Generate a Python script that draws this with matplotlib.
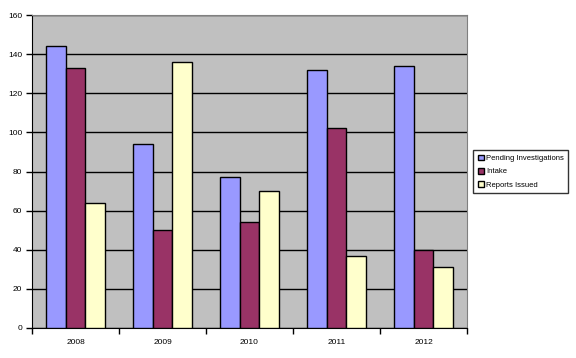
import matplotlib.pyplot as plt
import numpy as np

plt.rcParams['font.family'] = ['Liberation Sans', 'DejaVu Sans']

# Data
years = ["2008", "2009", "2010", "2011", "2012"]
pending = [144, 94, 77, 132, 134]
intake = [133, 50, 54, 102, 40]
reports = [64, 136, 70, 37, 31]

series = [
    ("Pending Investigations", pending, "#9999FF"),
    ("Intake", intake, "#993366"),
    ("Reports Issued", reports, "#FFFFCC"),
]

fig = plt.figure(figsize=(5.76, 3.58), dpi=100)
ax = fig.add_axes([32 / 576, 30 / 358, 435 / 576, 313 / 358])
ax.set_facecolor("#C0C0C0")

x = np.arange(len(years))
w = 0.225
for i, (name, vals, col) in enumerate(series):
    ax.bar(x + (i - 1) * w, vals, w, color=col, edgecolor="black",
           linewidth=1.0, label=name, zorder=3)

ax.set_xlim(-0.5, len(years) - 0.5)
ax.set_ylim(0, 160)
ax.set_yticks(range(0, 161, 20))
ax.yaxis.grid(True, color="black", linewidth=1.0, zorder=0)
ax.tick_params(axis="y", length=4, width=1, labelsize=6, pad=3)

ax.set_xticks(x)
ax.set_xticklabels(years)
ax.set_xticks(np.arange(-0.5, len(years)), minor=True)
ax.tick_params(axis="x", which="major", length=0, labelsize=6, pad=8)
ax.tick_params(axis="x", which="minor", length=4, width=1)

for s in ["top", "right"]:
    ax.spines[s].set_color("#808080")
for s in ["left", "bottom"]:
    ax.spines[s].set_color("black")

leg = fig.legend(loc="upper left", bbox_to_anchor=(473 / 576, 1 - 150 / 358),
                 fontsize=5.5, frameon=True, fancybox=False, handlelength=0.8,
                 handleheight=0.8, handletextpad=0.3, borderpad=0.6,
                 labelspacing=0.75, borderaxespad=0)
leg.get_frame().set_edgecolor("black")
leg.get_frame().set_linewidth(1.0)

plt.savefig("out.png", dpi=100)
